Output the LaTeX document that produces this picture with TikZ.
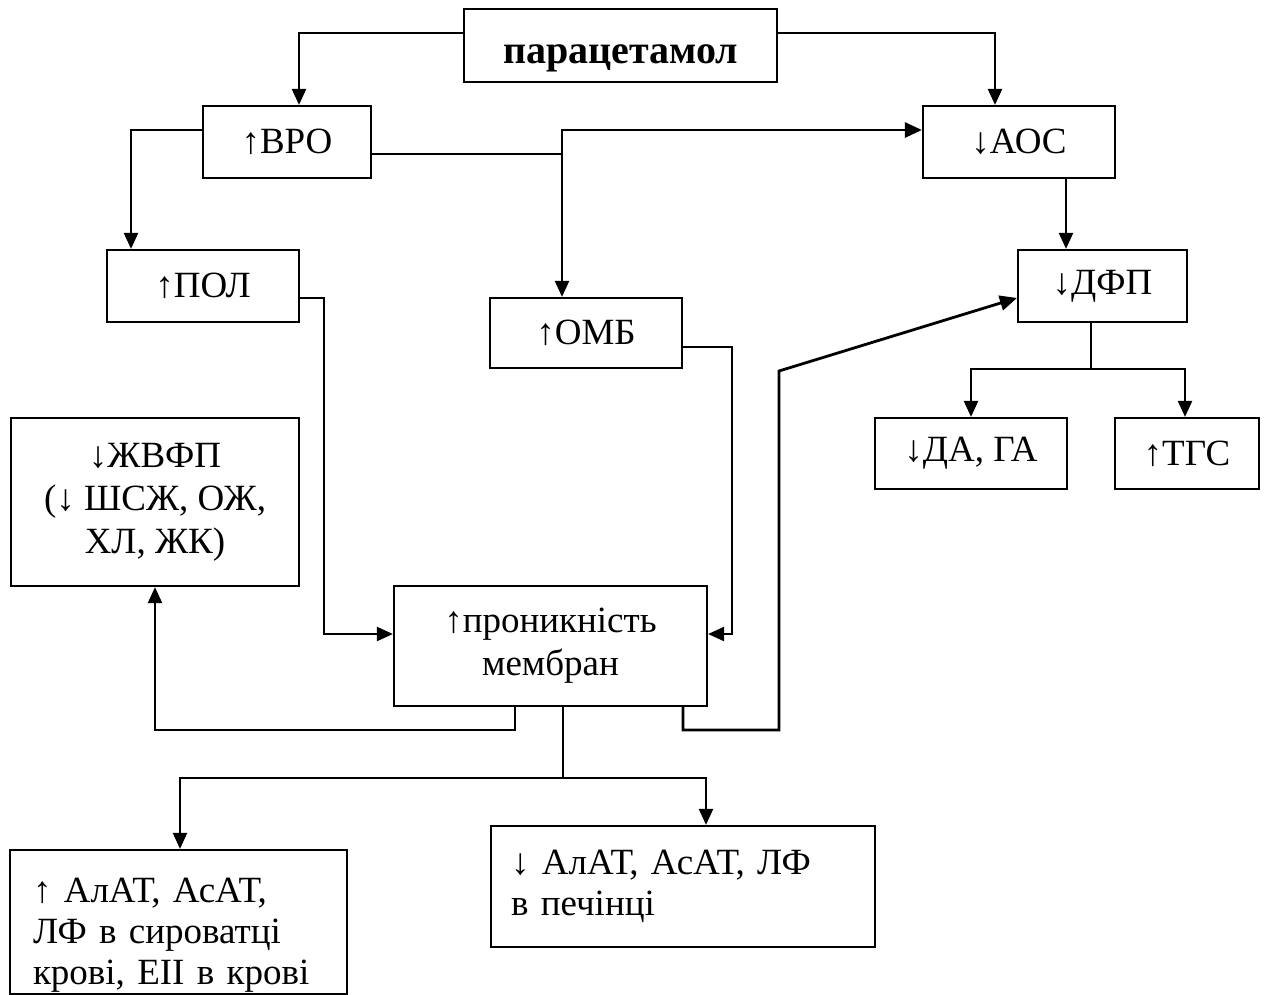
\documentclass[tikz,border=0pt]{standalone}
\usepackage{fontspec}
\setmainfont{Liberation Serif}
\usetikzlibrary{arrows.meta}

\tikzset{
  box/.style={draw, line width=2.2pt, inner sep=0pt, align=center,
    font=\fontsize{37}{43}\selectfont},
  titlebox/.style={draw, line width=2.2pt, inner sep=0pt,
    font=\fontsize{40}{46}\selectfont\bfseries},
  leftbox/.style={draw, line width=2.2pt, inner ysep=0pt, align=left,
    font=\fontsize{37}{41}\selectfont},
  link/.style={line width=2.2pt},
  arr/.style={line width=2.2pt, -{Triangle[length=16pt,width=14pt]}},
  thickarr/.style={line width=2.8pt, -{Triangle[length=17pt,width=15pt]}}
}

\begin{document}
\begin{tikzpicture}[x=1pt, y=-1pt]
\useasboundingbox (0,0) rectangle (1268,994);

% boxes
\node[titlebox, minimum width=313pt, minimum height=73pt,
      text height=38pt, text depth=3pt] (par) at (620.5,45.5) {парацетамол};
\node[box, minimum width=168pt, minimum height=72pt] (vro) at (287,142) {↑ВРО};
\node[box, minimum width=192pt, minimum height=72pt] (aos) at (1019,142) {↓АОС};
\node[box, minimum width=192pt, minimum height=72pt] (pol) at (203,286) {↑ПОЛ};
\node[box, minimum width=192pt, minimum height=70pt] (omb) at (586,333) {↑ОМБ};
\node[box, minimum width=169pt, minimum height=72pt] (dfp) at (1102.5,286) {↓ДФП};
\node[box, minimum width=192pt, minimum height=71pt] (da) at (971,453.5) {↓ДА, ГА};
\node[box, minimum width=144pt, minimum height=71pt] (tgs) at (1187,453.5) {↑ТГС};
\node[box, minimum width=288pt, minimum height=168pt] (zhv) at (155,502)
  {↓ЖВФП\\(↓ ШСЖ, ОЖ,\\ХЛ, ЖК)};
\node[box, minimum width=313pt, minimum height=120pt] (pron) at (550.5,646)
  {↑проникність\\мембран};
% the tall strut on the first line lowers the text block a little
\node[leftbox, inner xsep=23pt, text width=291pt, minimum height=144pt] (blood) at (178.5,922)
  {\rule{0pt}{50pt}↑ АлАТ, АсАТ,\\ЛФ в сироватці\\крові, ЕІІ в крові};
\node[leftbox, inner xsep=20pt, text width=344pt, minimum height=121pt] (liver) at (683,886.5)
  {↓ АлАТ, АсАТ, ЛФ\\в печінці};

% junctions and bends
\coordinate (j1) at (562,154);
\coordinate (j2) at (1091,369);
\coordinate (j3) at (563,778);
\coordinate (k1) at (779,730);
\coordinate (k2) at (779,371);
\coordinate (k3) at (155,730);

% paracetamol branches
\draw[arr] ([yshift=12.5pt]par.west) -| ([xshift=12pt]vro.north);
\draw[arr] ([yshift=12.5pt]par.east) -| ([xshift=-24pt]aos.north);

% from ВРО
\draw[arr] ([yshift=12pt]vro.west) -| ([xshift=-72pt]pol.north);
\draw[link] ([yshift=-12pt]vro.east) -- (j1);
\draw[thickarr] (j1) |- ([yshift=12pt]aos.west);
\draw[arr] (j1) -- ([xshift=-24pt]omb.north);

% into the membrane box
\draw[arr] ([yshift=-12pt]pol.east) -- ++(24,0) |- ([yshift=12pt]pron.west);
\draw[arr] ([yshift=-14pt]omb.east) -- ++(49,0) |- ([yshift=12pt]pron.east);

% right column
\draw[arr] ([xshift=47pt]aos.south) -- ([xshift=47pt]aos.south |- dfp.north);
\draw[link] ([xshift=-11.5pt]dfp.south) -- (j2);
\draw[arr] (j2) -| (da.north);
\draw[arr] (j2) -| ([xshift=-2pt]tgs.north);

% out of the membrane box
\draw[arr] ([xshift=-35.5pt]pron.south) |- (k3) -- (zhv.south);
\draw[thickarr] ([xshift=132.5pt]pron.south) |- (k1) -- (k2) -- ([yshift=-12pt]dfp.west);
\draw[link] ([xshift=12.5pt]pron.south) -- (j3);
\draw[arr] (j3) -| ([xshift=1.5pt]blood.north);
\draw[arr] (j3) -| ([xshift=23pt]liver.north);
\end{tikzpicture}
\end{document}
